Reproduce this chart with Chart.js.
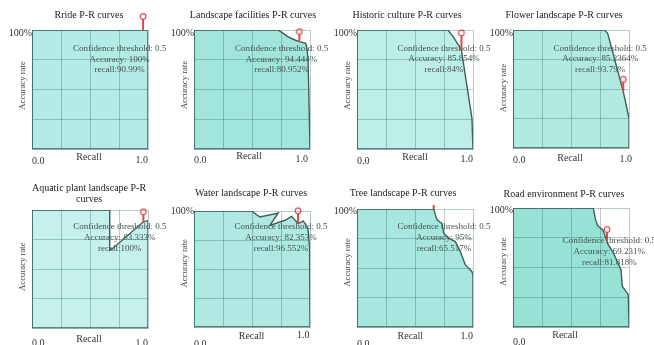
<!DOCTYPE html>
<html><head><meta charset="utf-8">
<script src="https://cdn.jsdelivr.net/npm/chart.js@4.4.1/dist/chart.umd.min.js"></script>
<style>
html,body{margin:0;padding:0;background:#fff;width:654px;height:345px;overflow:hidden;position:relative}
canvas{position:absolute}
</style></head><body>
<script>
// ---------- data ----------
const titles = [
  ['Rride P-R curves'], ['Landscape facilities P-R curves'], ['Historic culture P-R curves'], ['Flower landscape P-R curves'],
  ['Aquatic plant landscape P-R', 'curves'], ['Water landscape P-R curves'], ['Tree landscape P-R curves'], ['Road environment P-R curves']
];
const yAxisTitle = 'Accuracy rate';
const xAxisTitle = 'Recall';
const xTickLabels = ['0.0', '1.0'];
const yTickLabel = '100%';
const confidence = ['0.5', '0.5', '0.5', '0.5', '0.5', '0.5', '0.5', '0.5'];
const accuracyText = ['100%', '94.444%', '85.854%', '85.2364%', '83.333%', '82.353%', '95%', '69.231%'];
const recallText = ['90.99%', '80.952%', '84%', '93.79%', '100%', '96.552%', '65.517%', '81.818%'];

const rideRecall = [0, 1, 1];
const ridePrecision = [1, 1, 0];
const facilitiesRecall = [0, 0.725, 0.77, 0.808, 0.87, 0.908, 0.963, 0.977, 0.985, 1.0];
const facilitiesPrecision = [1, 1, 0.972, 0.944, 0.916, 0.902, 0.888, 0.832, 0.692, 0];
const historicRecall = [0, 0.784, 0.833, 0.9, 0.991, 1.0];
const historicPrecision = [1, 1, 0.938, 0.832, 0.258, 0];
const flowerRecall = [0, 0.787, 0.816, 0.95, 1.0, 1.0];
const flowerPrecision = [1, 1, 0.972, 0.48, 0.254, 0];
const aquaticRecall = [0, 0.67, 0.67, 0.69, 0.96, 1.0, 1.0];
const aquaticPrecision = [1, 1, 0.66, 0.67, 0.90, 0.91, 0];
const waterRecall = [0, 0.496, 0.568, 0.726, 0.654, 0.784, 0.841, 0.899, 0.942, 0.983, 0.997, 1.0];
const waterPrecision = [1, 1, 0.948, 0.983, 0.876, 0.92, 0.954, 0.891, 0.914, 0.848, 0.676, 0];
const treeRecall = [0, 0.661, 0.675, 0.69, 0.733, 0.747, 0.79, 0.848, 0.891, 0.934, 0.991, 1.0, 1.0];
const treePrecision = [1, 1, 0.952, 0.909, 0.875, 0.795, 0.753, 0.724, 0.639, 0.526, 0.469, 0.44, 0];
const roadRecall = [0, 0.692, 0.712, 0.729, 0.778, 0.816, 0.865, 0.908, 0.931, 0.942, 0.994, 1.0];
const roadPrecision = [1, 1, 0.902, 0.852, 0.812, 0.70, 0.622, 0.532, 0.482, 0.342, 0.272, 0];

const curveRecalls = [rideRecall, facilitiesRecall, historicRecall, flowerRecall, aquaticRecall, waterRecall, treeRecall, roadRecall];
const curvePrecisions = [ridePrecision, facilitiesPrecision, historicPrecision, flowerPrecision, aquaticPrecision, waterPrecision, treePrecision, roadPrecision];

const pinRecall = [0.957, 0.908, 0.9, 0.95, 0.96, 0.897, 0.661, 0.81];
const pinPrecision = [1.0, 0.902, 0.832, 0.48, 0.90, 0.89, 1.0, 0.718];

// ---------- styles / layout ----------
const fillColors = ['#b4ebe4', '#a2e5db', '#bdeee8', '#b2eae2', '#c5f0eb', '#b0e9e1', '#a8e7de', '#98e1d5'];
const lineColor = '#3d5f5a';
const gridColor = 'rgba(40,100,92,0.32)';
const pinColor = '#e0474c';
const FONT = '"Liberation Serif", "Times New Roman", serif';
const PAD = {left: 34, top: 30, right: 30, bottom: 24};
const boxes = [
  {L:32,  T:30,  W:116, H:119, titleDx:-1,  titleDy:-15,   hun:3.5, rateDy:-4,   zeroDy:12,   recDy:8.5, recDx:-1,  oneDy:11,   oneDx:0,  annX:0.755, annDy:18.5, pinLen:13.5, circle:true},
  {L:194, T:30,  W:116, H:119, titleDx:1,   titleDy:-15,   hun:3.3, rateDy:-4.5, zeroDy:11,   recDy:7.7, recDx:-3,  oneDy:10.3, oneDx:-2, annX:0.755, annDy:18.5, pinLen:10,   circle:true},
  {L:357, T:30,  W:116, H:119, titleDx:-8,  titleDy:-15,   hun:3.3, rateDy:-4,   zeroDy:12,   recDy:8.7, recDx:0,   oneDy:10.3, oneDx:0,  annX:0.75,  annDy:18.3, pinLen:17,   circle:true},
  {L:513, T:30,  W:116, H:118, titleDx:-7,  titleDy:-15,   hun:3.3, rateDy:-1,   zeroDy:12.7, recDy:10.3,recDx:-1,  oneDy:11.3, oneDx:3,  annX:0.752, annDy:18.3, pinLen:12,   circle:true},
  {L:32,  T:210, W:116, H:118, titleDx:-1,  titleDy:-16.2, hun:null,rateDy:-2.3, zeroDy:15.3, recDy:11.3,recDx:-1,  oneDy:15.3, oneDx:0,  annX:0.757, annDy:16.7, pinLen:10,   circle:true},
  {L:194, T:211, W:116, H:116, titleDx:-1,  titleDy:-17.7, hun:0.7, rateDy:-5.7, zeroDy:17,   recDy:9.7, recDx:-0.5,oneDy:8.7,  oneDx:-0.5,annX:0.75, annDy:15.7, pinLen:13,   circle:true},
  {L:357, T:209, W:116, H:118, titleDx:-12, titleDy:-15.7, hun:2.7, rateDy:-5.5, zeroDy:17,   recDy:9.7, recDx:-4.7,oneDy:9.7,  oneDx:0,  annX:0.75,  annDy:17.7, pinLen:4,    circle:false},
  {L:513, T:208, W:116, H:119, titleDx:-7,  titleDy:-14,   hun:2,   rateDy:-5.8, zeroDy:15.7, recDy:8,   recDx:-6,  oneDy:null, oneDx:0,  annX:0.83,  annDy:32.7, pinLen:12,   circle:true}
];

function makePin(len, circle) {
  const r = 2.8, w = 10;
  const half = Math.ceil(len + r + 2);
  const c = document.createElement('canvas');
  c.width = w; c.height = half * 2;
  const g = c.getContext('2d');
  const tipY = half;
  g.strokeStyle = pinColor;
  g.lineWidth = 2;
  g.beginPath();
  g.moveTo(w / 2, circle ? tipY - len + r : tipY - len);
  g.lineTo(w / 2, tipY);
  g.stroke();
  if (circle) {
    g.beginPath();
    g.arc(w / 2, tipY - len, r, 0, Math.PI * 2);
    g.fillStyle = '#fff';
    g.fill();
    g.lineWidth = 1.2;
    g.stroke();
  }
  return c;
}

const panelText = {
  id: 'panelText',
  afterDatasetDraw(chart, args, opts) {
    if (args.index !== 0) return;
    const {ctx, chartArea: a, scales} = chart;
    const b = opts.box, i = opts.idx;
    ctx.save();
    ctx.textBaseline = 'middle';
    ctx.fillStyle = '#222';
    ctx.font = '10px ' + FONT;
    ctx.textAlign = 'center';
    const tl = titles[i];
    const cx = (a.left + a.right) / 2 + b.titleDx;
    tl.forEach((s, k) => ctx.fillText(s, cx, a.top + b.titleDy + (k - (tl.length - 1) / 2) * 11));
    if (b.hun !== null) {
      ctx.textAlign = 'right';
      ctx.fillStyle = '#333';
      ctx.fillText(yTickLabel, a.left, a.top + b.hun);
    }
    ctx.save();
    ctx.translate(a.left - 9, (a.top + a.bottom) / 2 + b.rateDy);
    ctx.rotate(-Math.PI / 2);
    ctx.textAlign = 'center';
    ctx.fillStyle = '#444';
    ctx.font = '8.7px ' + FONT;
    ctx.fillText(yAxisTitle, 0, 0);
    ctx.restore();
    ctx.fillStyle = '#333';
    ctx.font = '10px ' + FONT;
    ctx.textAlign = 'left';
    ctx.fillText(xTickLabels[0], a.left, a.bottom + b.zeroDy);
    ctx.textAlign = 'center';
    ctx.fillText(xAxisTitle, (a.left + a.right) / 2 + b.recDx, a.bottom + b.recDy);
    if (b.oneDy !== null) {
      ctx.textAlign = 'right';
      ctx.fillText(xTickLabels[1], a.right + b.oneDx, a.bottom + b.oneDy);
    }
    ctx.fillStyle = '#44524f';
    ctx.font = '9px ' + FONT;
    ctx.textAlign = 'center';
    const ax = scales.x.getPixelForValue(b.annX);
    const lines = ['Confidence threshold: ' + confidence[i], 'Accuracy: ' + accuracyText[i], 'recall:' + recallText[i]];
    lines.forEach((s, k) => ctx.fillText(s, ax, a.top + b.annDy + k * 10.8));
    ctx.restore();
  }
};

boxes.forEach((b, i) => {
  const cv = document.createElement('canvas');
  const w = PAD.left + b.W + PAD.right, h = PAD.top + b.H + PAD.bottom;
  cv.width = w; cv.height = h;
  cv.style.width = w + 'px'; cv.style.height = h + 'px';
  cv.style.left = (b.L - PAD.left) + 'px';
  cv.style.top = (b.T - PAD.top) + 'px';
  document.body.appendChild(cv);

  const rec = curveRecalls[i], pre = curvePrecisions[i];
  const poly = [{x: 0, y: 0}];
  rec.forEach((r, k) => poly.push({x: r, y: pre[k]}));
  poly.push({x: 0, y: 0});

  const axisCommon = {
    type: 'linear', min: 0, max: 1,
    ticks: {display: false, stepSize: 0.25},
    grid: {color: gridColor, drawTicks: false, z: 1, lineWidth: 1},
    border: {color: gridColor, z: 1}
  };

  new Chart(cv, {
    type: 'line',
    data: {datasets: [
      {data: poly, fill: 'shape', backgroundColor: fillColors[i], borderColor: 'rgba(0,0,0,0)', borderWidth: 0, pointRadius: 0, order: 3, tension: 0},
      {data: poly, fill: false, borderColor: lineColor, borderWidth: 1.4, pointRadius: 0, order: 2, tension: 0},
      {data: [{x: pinRecall[i], y: pinPrecision[i]}], showLine: false, pointStyle: makePin(b.pinLen, b.circle),
       pointRadius: 3, clip: false, order: 1, borderColor: pinColor, backgroundColor: pinColor}
    ]},
    options: {
      responsive: false, animation: false, devicePixelRatio: 1, events: [],
      layout: {padding: PAD, autoPadding: false},
      plugins: {legend: {display: false}, tooltip: {enabled: false}, title: {display: false}, panelText: {box: b, idx: i}},
      scales: {
        x: Object.assign({}, axisCommon, {position: 'bottom', afterFit: s => { s.height = 0; }}),
        y: Object.assign({}, axisCommon, {position: 'left', afterFit: s => { s.width = 0; }})
      }
    },
    plugins: [panelText]
  });
});
</script>
</body></html>
